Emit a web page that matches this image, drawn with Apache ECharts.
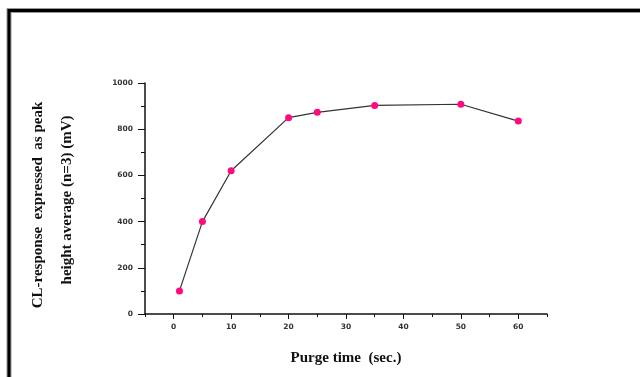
<!DOCTYPE html>
<html>
<head>
<meta charset="utf-8">
<script src="https://cdn.jsdelivr.net/npm/echarts@6/dist/echarts.min.js"></script>
<style>
  html, body { margin: 0; padding: 0; background: #fff; }
  #chart { width: 640px; height: 377px; }
</style>
</head>
<body>
<div id="chart"></div>
<script>
// Purge time (sec.) and CL response (mV)
const purgeTimes = [1, 5, 10, 20, 25, 35, 50, 60];
const clResponse = [100, 400, 620, 850, 873, 903, 908, 835];

const xTickLabels = [0, 10, 20, 30, 40, 50, 60];
const xMinorTicks = [-5, 5, 15, 25, 35, 45, 55, 65];
const yTickLabels = [0, 200, 400, 600, 800, 1000];

const points = purgeTimes.map((t, i) => [t, clResponse[i]]);

const chart = echarts.init(document.getElementById('chart'), null, { renderer: 'canvas' });

const tickFont = {
  fontFamily: 'DejaVu Sans, Verdana, sans-serif',
  fontWeight: 'bold',
  fontSize: 7.5,
  color: '#333'
};

const titleFont = {
  fontFamily: 'Liberation Serif, Times New Roman, serif',
  fontWeight: 'bold',
  fontSize: 15
};

chart.setOption({
  animation: false,
  backgroundColor: '#fff',
  grid: { left: 145, right: 93, top: 83, bottom: 63 },
  xAxis: [{
    type: 'value',
    min: -5,
    max: 65,
    interval: 5,
    splitLine: { show: false },
    axisLine: { onZero: false, lineStyle: { color: '#111', width: 1.5 } },
    axisTick: { length: 5, customValues: xTickLabels, lineStyle: { color: '#111', width: 1 } },
    axisLabel: Object.assign({
      margin: 9,
      customValues: xTickLabels,
      formatter: v => String(v)
    }, tickFont),
    name: 'Purge time  (sec.)',
    nameLocation: 'middle',
    nameGap: 37,
    nameTextStyle: Object.assign({ color: '#111' }, titleFont)
  }, {
    // short in-between ticks on the time axis
    type: 'value',
    position: 'bottom',
    min: -5,
    max: 65,
    interval: 5,
    splitLine: { show: false },
    axisLine: { show: false, onZero: false },
    axisTick: { show: true, length: 3, customValues: xMinorTicks, lineStyle: { color: '#111', width: 1 } },
    axisLabel: { show: false }
  }],
  yAxis: {
    type: 'value',
    min: 0,
    max: 1000,
    interval: 200,
    splitLine: { show: false },
    axisLine: { show: true, onZero: false, lineStyle: { color: '#111', width: 1.5 } },
    axisTick: { show: true, length: 7, customValues: yTickLabels, lineStyle: { color: '#111', width: 1 } },
    minorTick: { show: true, splitNumber: 2, length: 4, lineStyle: { color: '#111', width: 1 } },
    minorSplitLine: { show: false },
    axisLabel: Object.assign({
      margin: 12,
      customValues: yTickLabels,
      formatter: v => String(v)
    }, tickFont)
  },
  graphic: [
    // frame around the figure (top and left edges)
    {
      type: 'polyline',
      shape: { points: [[9, 377], [9, 10.5], [640, 10.5]] },
      style: { stroke: '#999', lineWidth: 5, fill: null },
      z: 10
    },
    {
      type: 'polyline',
      shape: { points: [[9, 377], [9, 10.5], [640, 10.5]] },
      style: { stroke: '#000', lineWidth: 3, fill: null },
      z: 11
    },
    // two-line y-axis title
    {
      type: 'text',
      x: 38,
      y: 205,
      rotation: Math.PI / 2,
      style: Object.assign({
        text: 'CL-response  expressed  as peak',
        fill: '#111',
        align: 'center',
        verticalAlign: 'middle'
      }, titleFont)
    },
    {
      type: 'text',
      x: 67,
      y: 200,
      rotation: Math.PI / 2,
      style: Object.assign({
        text: 'height average (n=3) (mV)',
        fill: '#111',
        align: 'center',
        verticalAlign: 'middle'
      }, titleFont)
    }
  ],
  series: [{
    type: 'line',
    xAxisIndex: 0,
    data: points,
    symbol: 'circle',
    symbolSize: 7,
    lineStyle: { color: '#333', width: 1.2 },
    itemStyle: { color: '#ff0a7f', borderWidth: 0 }
  }]
});
</script>
</body>
</html>
